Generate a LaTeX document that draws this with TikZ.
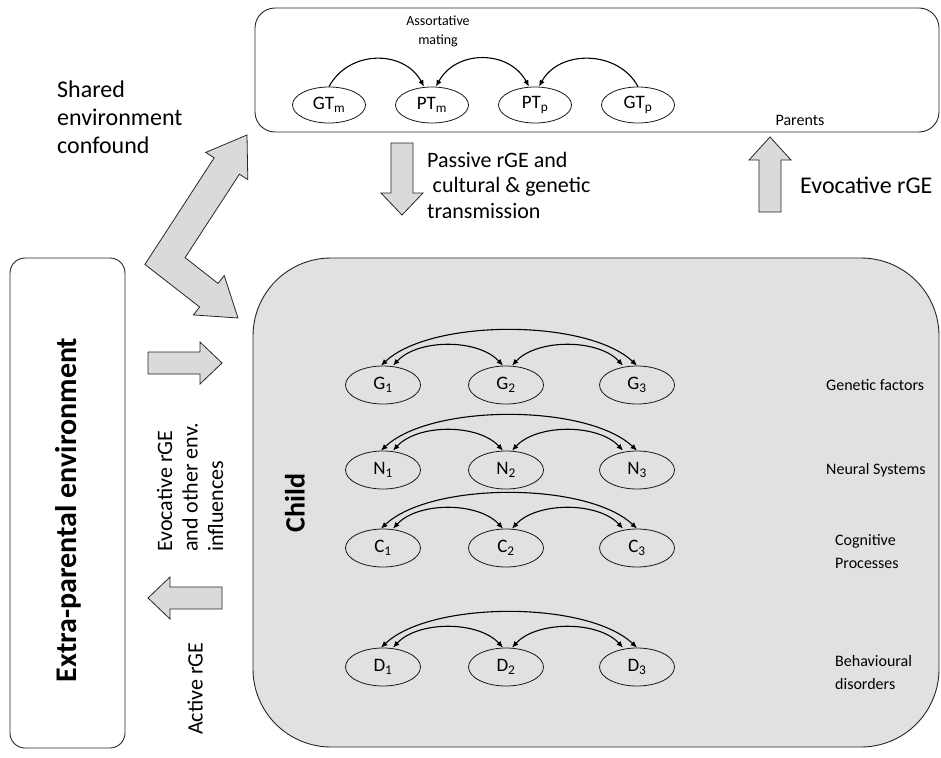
\documentclass[tikz,border=0pt]{standalone}
\usepackage{fontspec}
\setmainfont{Carlito}
\usetikzlibrary{arrows.meta,shapes.geometric}
\definecolor{childgray}{RGB}{225,225,225}
\definecolor{arrowgray}{RGB}{218,218,218}
\begin{document}
\begin{tikzpicture}[x=1pt,y=-1pt,
  box/.style={draw=black!85, line width=0.9pt},
  blockarrow/.style={draw=black!85, fill=arrowgray, line width=0.8pt, line join=miter},
  var/.style={ellipse, draw=black!90, line width=0.8pt, minimum width=75pt, minimum height=38pt, inner sep=0pt, font=\fontsize{19}{22}\selectfont},
  pvar/.style={var, fill=white, minimum width=73pt, minimum height=36pt},
  link/.style={line width=1.1pt, {Latex[length=6.5pt,width=5.5pt]}-{Latex[length=6.5pt,width=5.5pt]}},
  linkone/.style={line width=1.1pt, -{Latex[length=6.5pt,width=5.5pt]}},
  lbl/.style={font=\fontsize{22}{25.5}\selectfont, align=left, inner sep=0pt},
  biglbl/.style={font=\fontsize{24}{28}\selectfont, align=left, inner sep=0pt},
  rowlbl/.style={font=\fontsize{16}{23}\selectfont, align=left, inner sep=0pt, anchor=west},
  bigbold/.style={font=\fontsize{28}{32}\selectfont\bfseries, inner sep=0pt}
]
\useasboundingbox (0,0) rectangle (941,757);

% Parents box
\draw[box, fill=white, rounded corners=20pt] (255,8) rectangle (939,132);
\node[font=\fontsize{14}{19}\selectfont, align=center, inner sep=0pt] (assort) at (438,31) {Assortative\\mating};
\node[pvar] (GTm) at (329,105) {GT\textsubscript{m}};
\node[pvar] (PTm) at (432,105) {PT\textsubscript{m}};
\node[pvar] (PTp) at (535,105) {PT\textsubscript{p}};
\node[pvar] (GTp) at (638,105) {GT\textsubscript{p}};
\node[font=\fontsize{16}{19}\selectfont, inner sep=0pt] (parents) at (800,120) {Parents};
\draw[linkone] (GTm.north) .. controls +(20,-37) and +(-20,-37) .. ([xshift=-8pt]PTm.north);
\draw[link] ([xshift=4pt]PTm.north) .. controls +(20,-37) and +(-20,-37) .. ([xshift=-6pt]PTp.north);
\draw[linkone] (GTp.north) .. controls +(-20,-37) and +(20,-37) .. ([xshift=4pt]PTp.north);

% Child box
\draw[box, fill=childgray, rounded corners=78pt] (253,258) rectangle (939,747);
\node[bigbold, rotate=90] (child) at (295,503) {Child};

% Extra-parental box
\draw[box, fill=white, rounded corners=15pt] (10,258) rectangle (125,748);
\node[bigbold, font=\fontsize{30}{34}\selectfont\bfseries, rotate=90] (extra) at (68,510) {Extra-parental environment};

% Passive arrow (down)
\draw[blockarrow] (391,143) -- (413,143) -- (413,193) -- (423,193) -- (402,215) -- (381,193) -- (391,193) -- cycle;
\node[lbl, anchor=north west] (passive) at (427,152) {Passive rGE and\\\hspace{0.25em}cultural \& genetic\\transmission};

% Evocative arrow (up)
\draw[blockarrow] (759,212) -- (781,212) -- (781,160) -- (791,160) -- (770,137) -- (749,160) -- (759,160) -- cycle;
\node[biglbl, anchor=west] (evoc) at (800,185) {Evocative rGE};

% Shared environment confound
\node[biglbl, anchor=north west] (shared) at (57,81) {Shared\\environment\\confound};
\draw[blockarrow] (144.9,264.4) -- (214.2,157.8) -- (205.8,152.4) -- (247,135) -- (247.8,179.6) -- (239.4,174.2)
  -- (185.1,257.6) -- (218.0,283.4) -- (224.2,275.5) -- (238,318) -- (193.4,314.9) -- (199.6,307.0) -- cycle;

% Right arrow (into child)
\draw[blockarrow] (148,352) -- (200,352) -- (200,342) -- (222,363) -- (200,384) -- (200,374) -- (148,374) -- cycle;
% Left arrow (active)
\draw[blockarrow] (222,587) -- (170,587) -- (170,577) -- (148,598) -- (170,619) -- (170,609) -- (222,609) -- cycle;
\node[lbl, rotate=90, anchor=west] (evocenv) at (190,552) {Evocative rGE\\and other env.\\influences};
\node[lbl, rotate=90, anchor=west] (active) at (195,735) {Active rGE};

% Child variables
\foreach \rw/\yy in {G/385,N/470,C/548,D/667}{
  \node[var] (\rw1) at (383,\yy) {\rw\textsubscript{1}};
  \node[var] (\rw2) at (506,\yy) {\rw\textsubscript{2}};
  \node[var] (\rw3) at (637,\yy) {\rw\textsubscript{3}};
  \draw[link] ([xshift=-2pt]\rw1.north) .. controls +(50,-47) and +(-50,-47) .. (\rw3.north);
  \draw[link] ([xshift=10pt]\rw1.north) .. controls +(25,-27) and +(-25,-27) .. ([xshift=-3pt]\rw2.north);
  \draw[link] ([xshift=6pt]\rw2.north) .. controls +(25,-27) and +(-25,-27) .. ([xshift=-14pt]\rw3.north);
}
\node[rowlbl] (lg) at (826,385) {Genetic factors};
\node[rowlbl] (ln) at (826,470) {Neural Systems};
\node[rowlbl] (lc) at (835,552) {Cognitive\\Processes};
\node[rowlbl] (ld) at (835,672) {Behavioural\\disorders};
\end{tikzpicture}
\end{document}
